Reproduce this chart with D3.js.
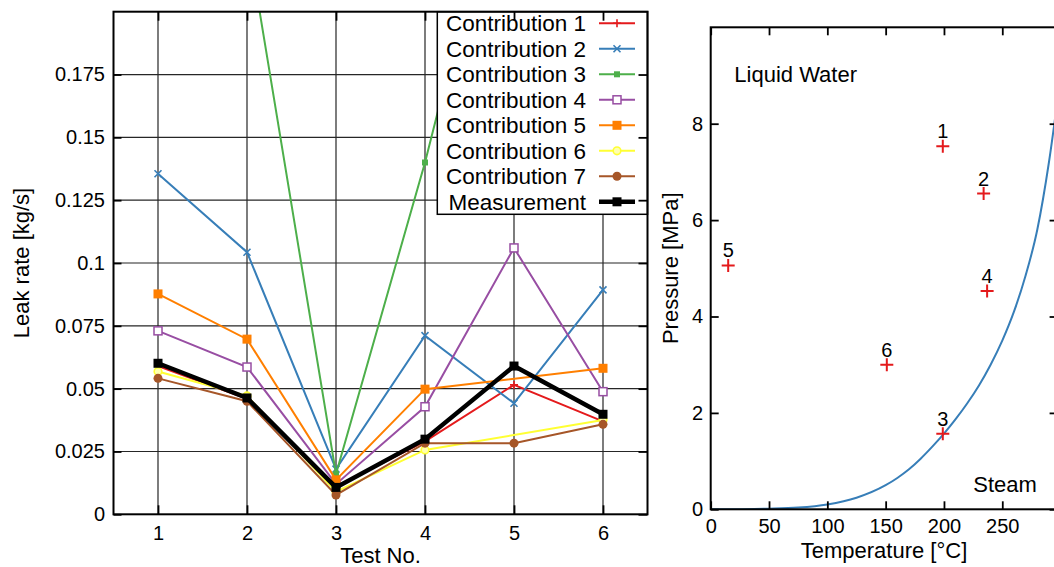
<!DOCTYPE html>
<html>
<head>
<meta charset="utf-8">
<script src="https://cdn.jsdelivr.net/npm/d3@7"></script>
<style>
  body { margin: 0; background: #fff; }
  svg { display: block; }
  text { font-family: "Liberation Sans", Arial, Helvetica, sans-serif; fill: #000; }
</style>
</head>
<body>
<svg id="chart" width="1054" height="567"></svg>
<script>
// ---- Leak rate per test ----
const tests = [1, 2, 3, 4, 5, 6];
const leakTicks = [0, 0.025, 0.05, 0.075, 0.1, 0.125, 0.15, 0.175];
const leakTickLabels = ["0", "0.025", "0.05", "0.075", "0.1", "0.125", "0.15", "0.175"];
const seriesNames = ["Contribution 1", "Contribution 2", "Contribution 3", "Contribution 4",
                     "Contribution 5", "Contribution 6", "Contribution 7", "Measurement"];
const contribution1 = [0.059, 0.046, 0.011, 0.029, 0.0515, 0.037];
const contribution2 = [0.1355, 0.1043, 0.018, 0.0711, 0.0442, 0.0893];
const contribution3 = [0.24, 0.2305, 0.016, 0.14, 0.28, 0.22];
const contribution4 = [0.073, 0.0586, 0.012, 0.0428, 0.106, 0.0488];
const contribution5 = [0.0877, 0.0697, 0.0137, 0.0498, null, 0.0581];
const contribution6 = [0.0568, 0.0471, 0.009, 0.0256, null, 0.0375];
const contribution7 = [0.0541, 0.045, 0.0077, 0.0283, 0.0283, 0.0358];
const measurement = [0.0601, 0.0463, 0.0107, 0.0299, 0.059, 0.0398];

// ---- Test conditions vs. saturation curve ----
const conditionLabels = ["1", "2", "3", "4", "5", "6"];
const conditionTemperature = [199, 234, 199, 237, 15, 151];
const conditionPressure = [7.53, 6.55, 1.57, 4.53, 5.06, 3.0];
const saturationTemperature = [0, 25, 50, 75, 100, 125, 150, 160, 170, 180, 190, 200, 210, 220, 230, 240, 250, 260, 270, 280, 290, 300];
const saturationPressure = [0, 0.003, 0.012, 0.035, 0.1, 0.24, 0.5, 0.65, 0.83, 1.05, 1.3, 1.57, 1.87, 2.2, 2.57, 3.0, 3.5, 4.1, 4.85, 5.8, 7.2, 9.0];
const temperatureTicks = [0, 50, 100, 150, 200, 250];
const pressureTicks = [0, 2, 4, 6, 8];

// styling per series
const seriesColors = ["#e41a1c", "#377eb8", "#4daf4a", "#984ea3", "#ff7f00", "#ffff33", "#a65628", "#000000"];
const seriesMarkers = ["plus", "cross", "smallSquare", "openSquare", "square", "openCircle", "circle", "square"];
const seriesWidths = [2, 2, 2, 2, 2, 2, 2, 4.5];

const seriesValues = [contribution1, contribution2, contribution3, contribution4,
                      contribution5, contribution6, contribution7, measurement];

const svg = d3.select("#chart");

function drawMarker(g, type, cx, cy, color) {
  switch (type) {
    case "plus":
      g.append("path").attr("d", `M${cx - 4},${cy}h8M${cx},${cy - 4}v8`)
        .attr("stroke", color).attr("stroke-width", 1.6).attr("fill", "none");
      break;
    case "cross":
      g.append("path").attr("d", `M${cx - 3.5},${cy - 3.5}l7,7M${cx - 3.5},${cy + 3.5}l7,-7`)
        .attr("stroke", color).attr("stroke-width", 1.6).attr("fill", "none");
      break;
    case "smallSquare":
      g.append("rect").attr("x", cx - 3).attr("y", cy - 3).attr("width", 6).attr("height", 6)
        .attr("fill", color);
      break;
    case "openSquare":
      g.append("rect").attr("x", cx - 4).attr("y", cy - 4).attr("width", 8).attr("height", 8)
        .attr("fill", "#fff").attr("stroke", color).attr("stroke-width", 1.5);
      break;
    case "square":
      g.append("rect").attr("x", cx - 4.5).attr("y", cy - 4.5).attr("width", 9).attr("height", 9)
        .attr("fill", color);
      break;
    case "openCircle":
      g.append("circle").attr("cx", cx).attr("cy", cy).attr("r", 3.8)
        .attr("fill", "#ffffb0").attr("stroke", color).attr("stroke-width", 1.6);
      break;
    case "circle":
      g.append("circle").attr("cx", cx).attr("cy", cy).attr("r", 4.5).attr("fill", color);
      break;
  }
}

// ================= Left panel: leak rate =================
const xL = d3.scaleLinear().domain([0.5, 6.5]).range([113.5, 647.5]);
const yL = d3.scaleLinear().domain([0, 0.2]).range([514.3, 11.7]);
const [lx0, lx1] = xL.range();
const [ly0, ly1] = yL.range();

svg.append("defs").append("clipPath").attr("id", "clipLeft")
  .append("rect").attr("x", lx0).attr("y", ly1).attr("width", lx1 - lx0).attr("height", ly0 - ly1);

const left = svg.append("g");

// grid
const grid = left.append("g").attr("stroke", "#262626").attr("stroke-width", 1.2);
tests.forEach(t => grid.append("line").attr("x1", xL(t)).attr("x2", xL(t)).attr("y1", ly0).attr("y2", ly1));
leakTicks.filter(v => v > 0).forEach(v => grid.append("line").attr("x1", lx0).attr("x2", lx1).attr("y1", yL(v)).attr("y2", yL(v)));

// series
const plot = left.append("g").attr("clip-path", "url(#clipLeft)");
seriesValues.forEach((vals, i) => {
  const pts = tests.map((t, j) => [t, vals[j]]).filter(d => d[1] !== null);
  plot.append("path")
    .attr("d", d3.line().x(d => xL(d[0])).y(d => yL(d[1]))(pts))
    .attr("fill", "none").attr("stroke", seriesColors[i]).attr("stroke-width", seriesWidths[i])
    .attr("stroke-linejoin", "miter");
  const mg = plot.append("g");
  pts.forEach(d => drawMarker(mg, seriesMarkers[i], xL(d[0]), yL(d[1]), seriesColors[i]));
});

// legend
const legend = left.append("g");
legend.append("rect").attr("x", 437.3).attr("y", ly1).attr("width", lx1 - 437.3).attr("height", 214.3 - ly1)
  .attr("fill", "#fff").attr("stroke", "#000").attr("stroke-width", 1.5);
seriesNames.forEach((name, i) => {
  const yy = 23.3 + i * 25.5;
  legend.append("text").attr("x", 586).attr("y", yy).attr("dy", "0.35em")
    .attr("text-anchor", "end").attr("font-size", 22.5).text(name);
  legend.append("line").attr("x1", 599).attr("x2", 635).attr("y1", yy).attr("y2", yy)
    .attr("stroke", seriesColors[i]).attr("stroke-width", seriesWidths[i]);
  drawMarker(legend, seriesMarkers[i], 617, yy, seriesColors[i]);
});

// axes (inward ticks)
const axB = left.append("g").attr("transform", `translate(0,${ly0})`)
  .call(d3.axisBottom(xL).tickValues(tests).tickSize(-9).tickSizeOuter(0).tickPadding(11.5).tickFormat(d3.format("d")));
const axT = left.append("g").attr("transform", `translate(0,${ly1})`)
  .call(d3.axisTop(xL).tickValues(tests).tickSize(-9).tickSizeOuter(0).tickFormat(""));
const axLft = left.append("g").attr("transform", `translate(${lx0},0)`)
  .call(d3.axisLeft(yL).tickValues(leakTicks).tickSize(-8).tickSizeOuter(0).tickPadding(8.5)
    .tickFormat((d, i) => leakTickLabels[i]));
const axR = left.append("g").attr("transform", `translate(${lx1},0)`)
  .call(d3.axisRight(yL).tickValues(leakTicks).tickSize(-9).tickSizeOuter(0).tickFormat(""));
[axB, axT, axLft, axR].forEach(a => {
  a.select(".domain").remove();
  a.selectAll(".tick line").attr("stroke", "#000").attr("stroke-width", 1.8);
  a.selectAll("text").attr("font-size", 20).attr("font-family", null);
});
left.append("rect").attr("x", lx0).attr("y", ly1).attr("width", lx1 - lx0).attr("height", ly0 - ly1)
  .attr("fill", "none").attr("stroke", "#000").attr("stroke-width", 2);

left.append("text").attr("x", (lx0 + lx1) / 2).attr("y", 562.7).attr("text-anchor", "middle")
  .attr("font-size", 22).text("Test No.");
left.append("text").attr("transform", `translate(29,${(ly0 + ly1) / 2}) rotate(-90)`)
  .attr("text-anchor", "middle").attr("font-size", 22).text("Leak rate [kg/s]");

// ================= Right panel: pressure vs temperature =================
const xR = d3.scaleLinear().domain([0, 300]).range([710.7, 1060.6]);
const yR = d3.scaleLinear().domain([0, 10]).range([509.3, 27.3]);
const [rx0, rx1] = xR.range();
const [ry0, ry1] = yR.range();

svg.select("defs").append("clipPath").attr("id", "clipRight")
  .append("rect").attr("x", rx0).attr("y", ry1).attr("width", rx1 - rx0).attr("height", ry0 - ry1);

const right = svg.append("g");

right.append("path").attr("clip-path", "url(#clipRight)")
  .attr("d", d3.line().curve(d3.curveMonotoneX)
    .x((t) => xR(t)).y((t, i) => yR(saturationPressure[i]))(saturationTemperature))
  .attr("fill", "none").attr("stroke", "#377eb8").attr("stroke-width", 2);

const cond = right.append("g");
conditionTemperature.forEach((t, i) => {
  const cx = xR(t), cy = yR(conditionPressure[i]);
  cond.append("path").attr("d", `M${cx - 6.5},${cy}h13M${cx},${cy - 6.5}v13`)
    .attr("stroke", "#e41a1c").attr("stroke-width", 2).attr("fill", "none");
  cond.append("text").attr("x", cx).attr("y", cy - 8).attr("text-anchor", "middle")
    .attr("font-size", 20).text(conditionLabels[i]);
});

right.append("text").attr("x", 734.3).attr("y", 81.7).attr("font-size", 22).text("Liquid Water");
right.append("text").attr("x", 973.3).attr("y", 491.7).attr("font-size", 22).text("Steam");

const rB = right.append("g").attr("transform", `translate(0,${ry0})`)
  .call(d3.axisBottom(xR).tickValues(temperatureTicks).tickSize(-8).tickSizeOuter(0).tickPadding(10));
const rT = right.append("g").attr("transform", `translate(0,${ry1})`)
  .call(d3.axisTop(xR).tickValues(temperatureTicks).tickSize(-8).tickSizeOuter(0).tickFormat(""));
const rL = right.append("g").attr("transform", `translate(${rx0},0)`)
  .call(d3.axisLeft(yR).tickValues(pressureTicks).tickSize(-8).tickSizeOuter(0).tickPadding(7.7));
const rR = right.append("g").attr("transform", `translate(${rx1},0)`)
  .call(d3.axisRight(yR).tickValues(pressureTicks).tickSize(-11).tickSizeOuter(0).tickFormat(""));
[rB, rT, rL, rR].forEach(a => {
  a.select(".domain").remove();
  a.selectAll(".tick line").attr("stroke", "#000").attr("stroke-width", 1.8);
  a.selectAll("text").attr("font-size", 20).attr("font-family", null);
});
right.append("rect").attr("x", rx0).attr("y", ry1).attr("width", rx1 - rx0).attr("height", ry0 - ry1)
  .attr("fill", "none").attr("stroke", "#000").attr("stroke-width", 2);

right.append("text").attr("x", 884).attr("y", 558).attr("text-anchor", "middle")
  .attr("font-size", 22).text("Temperature [°C]");
right.append("text").attr("transform", `translate(678,${(ry0 + ry1) / 2}) rotate(-90)`)
  .attr("text-anchor", "middle").attr("font-size", 22).text("Pressure [MPa]");
</script>
</body>
</html>
